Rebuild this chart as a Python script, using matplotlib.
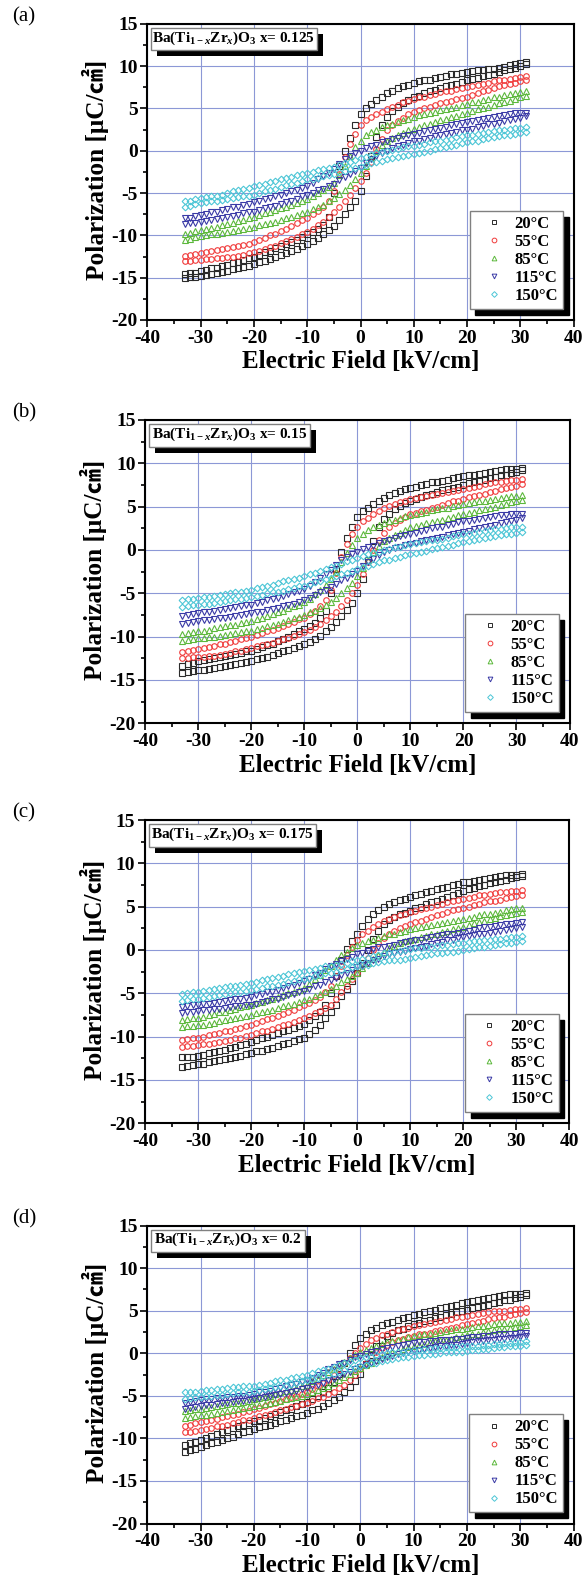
import matplotlib
matplotlib.use("Agg")
import matplotlib.pyplot as plt
from matplotlib.lines import Line2D
from matplotlib.patches import Rectangle

# field sweep (kV/cm), same grid for both branches of every loop
field = [-33, -32, -31, -30, -29, -28, -27, -26, -25, -24, -23, -22, -21, -20,
         -19, -18, -17, -16, -15, -14, -13, -12, -11, -10, -9, -8, -7, -6, -5,
         -4, -3, -2, -1, 0, 1, 2, 3, 4, 5, 6, 7, 8, 9, 10, 11, 12, 13, 14, 15,
         16, 17, 18, 19, 20, 21, 22, 23, 24, 25, 26, 27, 28, 29, 30, 31]

temps = ["20°C", "55°C", "85°C", "115°C", "150°C"]
compositions = ["0.125", "0.15", "0.175", "0.2"]
panel_tags = ["(a)", "(b)", "(c)", "(d)"]

# ---- x = 0.125 : upper (descending field) / lower (ascending field) branches
a20_up = [-14.6, -14.5, -14.4, -14.2, -14.1, -13.9, -13.8, -13.6, -13.5, -13.3, -13.1, -12.9, -12.7, -12.5, -12.3, -12.0, -11.8, -11.5, -11.3, -11.0, -10.8, -10.5, -10.2, -9.9, -9.6, -9.3, -8.8, -7.8, -5.0, -1.8, 0.0, 1.5, 3.0, 4.3, 5.0, 5.5, 6.0, 6.4, 6.8, 7.1, 7.4, 7.6, 7.8, 8.0, 8.2, 8.3, 8.4, 8.6, 8.7, 8.8, 9.0, 9.1, 9.2, 9.3, 9.4, 9.5, 9.5, 9.6, 9.7, 9.8, 9.9, 10.1, 10.2, 10.4, 10.5]
a20_dn = [-15.0, -14.9, -14.9, -14.8, -14.7, -14.6, -14.5, -14.3, -14.2, -14.0, -13.9, -13.7, -13.6, -13.4, -13.2, -13.0, -12.8, -12.5, -12.3, -12.1, -11.8, -11.6, -11.3, -11.0, -10.7, -10.3, -9.8, -9.4, -8.9, -8.2, -7.5, -6.7, -5.9, -4.8, -3.0, -0.6, 1.6, 3.0, 4.0, 4.7, 5.2, 5.6, 6.0, 6.3, 6.5, 6.8, 7.0, 7.2, 7.4, 7.6, 7.8, 7.9, 8.1, 8.3, 8.5, 8.6, 8.8, 8.9, 9.1, 9.3, 9.5, 9.6, 9.8, 10.0, 10.2]
a55_up = [-12.4, -12.3, -12.2, -12.1, -12.0, -11.8, -11.7, -11.6, -11.5, -11.4, -11.2, -11.1, -11.0, -10.8, -10.6, -10.3, -10.0, -9.8, -9.5, -9.2, -8.9, -8.5, -8.2, -7.9, -7.5, -7.1, -6.6, -6.0, -4.8, -2.8, -0.8, 0.8, 2.0, 3.0, 3.6, 4.0, 4.3, 4.6, 4.9, 5.2, 5.4, 5.7, 5.9, 6.1, 6.3, 6.4, 6.6, 6.7, 6.9, 7.0, 7.1, 7.3, 7.4, 7.5, 7.6, 7.8, 7.9, 8.0, 8.2, 8.3, 8.4, 8.5, 8.6, 8.7, 8.8]
a55_dn = [-13.0, -13.0, -12.9, -12.9, -12.8, -12.8, -12.7, -12.7, -12.6, -12.5, -12.4, -12.3, -12.1, -12.0, -11.8, -11.6, -11.4, -11.2, -10.9, -10.7, -10.4, -10.2, -9.9, -9.6, -9.2, -8.8, -8.4, -7.8, -7.2, -6.6, -5.9, -5.2, -4.4, -3.6, -2.6, -1.3, 0.2, 1.4, 2.5, 3.0, 3.5, 3.9, 4.3, 4.6, 4.8, 5.0, 5.2, 5.4, 5.6, 5.8, 5.9, 6.1, 6.2, 6.4, 6.6, 6.8, 7.0, 7.2, 7.4, 7.6, 7.7, 7.9, 8.0, 8.2, 8.4]
a85_up = [-9.8, -9.7, -9.5, -9.4, -9.3, -9.1, -9.0, -8.8, -8.7, -8.5, -8.3, -8.2, -8.0, -7.8, -7.6, -7.4, -7.2, -7.0, -6.8, -6.6, -6.4, -6.2, -5.9, -5.7, -5.4, -5.0, -4.7, -4.3, -3.8, -2.9, -1.8, -0.6, 0.4, 1.2, 1.8, 2.2, 2.5, 2.8, 3.0, 3.2, 3.4, 3.6, 3.8, 4.0, 4.2, 4.3, 4.5, 4.6, 4.8, 4.9, 5.1, 5.2, 5.4, 5.5, 5.7, 5.8, 6.0, 6.1, 6.3, 6.4, 6.6, 6.7, 6.8, 6.9, 7.0]
a85_dn = [-10.6, -10.4, -10.2, -10.1, -10.0, -9.9, -9.8, -9.7, -9.6, -9.5, -9.4, -9.2, -9.1, -9.0, -8.8, -8.7, -8.5, -8.4, -8.2, -8.0, -7.8, -7.6, -7.4, -7.2, -6.9, -6.7, -6.4, -6.0, -5.6, -5.1, -4.6, -4.0, -3.4, -2.6, -1.8, -0.9, 0.0, 0.7, 1.2, 1.5, 1.8, 2.1, 2.4, 2.6, 2.8, 3.0, 3.2, 3.4, 3.6, 3.8, 4.0, 4.1, 4.3, 4.5, 4.7, 4.9, 5.0, 5.2, 5.4, 5.6, 5.8, 5.9, 6.1, 6.3, 6.5]
a115_up = [-8.0, -7.9, -7.7, -7.6, -7.5, -7.3, -7.2, -7.0, -6.9, -6.7, -6.6, -6.4, -6.3, -6.1, -5.9, -5.7, -5.6, -5.4, -5.2, -5.0, -4.8, -4.6, -4.4, -4.2, -3.8, -3.4, -3.0, -2.6, -2.2, -1.6, -1.0, -0.6, -0.3, 0.0, 0.3, 0.5, 0.7, 1.0, 1.2, 1.4, 1.5, 1.7, 1.8, 2.0, 2.1, 2.3, 2.4, 2.6, 2.7, 2.8, 3.0, 3.1, 3.3, 3.4, 3.5, 3.6, 3.8, 3.9, 4.0, 4.1, 4.2, 4.3, 4.4, 4.4, 4.5]
a115_dn = [-8.7, -8.6, -8.5, -8.4, -8.3, -8.2, -8.1, -7.9, -7.8, -7.7, -7.6, -7.4, -7.3, -7.2, -7.0, -6.8, -6.7, -6.5, -6.3, -6.1, -5.9, -5.7, -5.4, -5.2, -5.0, -4.7, -4.5, -4.2, -3.9, -3.5, -3.1, -2.8, -2.4, -2.0, -1.5, -1.0, -0.6, -0.3, 0.0, 0.3, 0.5, 0.7, 0.9, 1.1, 1.2, 1.4, 1.5, 1.7, 1.8, 2.0, 2.1, 2.2, 2.4, 2.5, 2.6, 2.8, 2.9, 3.1, 3.2, 3.3, 3.5, 3.6, 3.8, 3.9, 4.1]
a150_up = [-6.0, -5.9, -5.7, -5.6, -5.5, -5.4, -5.3, -5.2, -5.0, -4.8, -4.7, -4.5, -4.4, -4.2, -4.0, -3.9, -3.7, -3.6, -3.4, -3.2, -3.1, -2.9, -2.8, -2.6, -2.5, -2.3, -2.2, -2.0, -1.9, -1.7, -1.5, -1.3, -1.1, -0.9, -0.7, -0.5, -0.3, -0.2, 0.0, 0.1, 0.2, 0.4, 0.5, 0.6, 0.7, 0.8, 1.0, 1.1, 1.2, 1.3, 1.4, 1.6, 1.7, 1.8, 1.9, 2.0, 2.1, 2.2, 2.3, 2.4, 2.5, 2.6, 2.7, 2.7, 2.8]
a150_dn = [-6.6, -6.5, -6.3, -6.2, -6.1, -6.0, -5.9, -5.8, -5.7, -5.6, -5.5, -5.4, -5.3, -5.2, -5.0, -4.8, -4.7, -4.5, -4.3, -4.1, -3.9, -3.8, -3.6, -3.4, -3.3, -3.2, -3.0, -2.9, -2.7, -2.5, -2.4, -2.2, -2.1, -1.9, -1.7, -1.5, -1.3, -1.2, -1.0, -0.9, -0.8, -0.6, -0.5, -0.4, -0.3, -0.1, 0.0, 0.2, 0.3, 0.4, 0.6, 0.7, 0.9, 1.0, 1.1, 1.2, 1.4, 1.5, 1.6, 1.7, 1.8, 1.9, 2.0, 2.1, 2.2]

# ---- x = 0.15
b20_up = [-13.4, -13.2, -13.0, -12.8, -12.7, -12.6, -12.5, -12.3, -12.2, -12.1, -12.0, -11.9, -11.7, -11.6, -11.4, -11.2, -11.0, -10.8, -10.5, -10.3, -10.0, -9.7, -9.4, -9.1, -8.8, -8.4, -7.9, -7.0, -5.0, -2.2, -0.2, 1.4, 2.7, 3.8, 4.5, 4.9, 5.3, 5.7, 6.0, 6.3, 6.6, 6.8, 7.0, 7.2, 7.3, 7.5, 7.6, 7.8, 7.9, 8.0, 8.1, 8.3, 8.4, 8.5, 8.6, 8.7, 8.8, 8.9, 9.0, 9.1, 9.2, 9.3, 9.3, 9.4, 9.5]
b20_dn = [-14.2, -14.1, -14.0, -13.9, -13.8, -13.7, -13.6, -13.5, -13.4, -13.3, -13.2, -13.0, -12.9, -12.8, -12.6, -12.5, -12.3, -12.1, -11.9, -11.7, -11.5, -11.3, -11.1, -10.9, -10.6, -10.3, -9.9, -9.4, -8.9, -8.3, -7.6, -6.9, -6.1, -5.0, -3.4, -1.2, 1.0, 2.6, 3.6, 4.2, 4.7, 5.1, 5.4, 5.7, 5.9, 6.1, 6.3, 6.5, 6.7, 6.9, 7.0, 7.2, 7.3, 7.5, 7.7, 7.8, 8.0, 8.1, 8.3, 8.4, 8.6, 8.7, 8.9, 9.0, 9.2]
b55_up = [-11.8, -11.7, -11.5, -11.4, -11.3, -11.2, -11.1, -10.9, -10.8, -10.6, -10.5, -10.3, -10.2, -10.0, -9.8, -9.6, -9.4, -9.2, -9.0, -8.8, -8.5, -8.3, -8.0, -7.8, -7.4, -7.0, -6.5, -5.8, -4.6, -2.6, -0.8, 0.7, 1.8, 2.7, 3.3, 3.7, 4.1, 4.5, 4.8, 5.1, 5.3, 5.5, 5.7, 5.9, 6.0, 6.1, 6.2, 6.4, 6.5, 6.6, 6.7, 6.8, 6.9, 7.0, 7.1, 7.3, 7.4, 7.6, 7.7, 7.8, 7.9, 8.0, 8.1, 8.1, 8.2]
b55_dn = [-12.5, -12.5, -12.4, -12.4, -12.3, -12.2, -12.2, -12.1, -12.0, -11.9, -11.7, -11.6, -11.4, -11.3, -11.1, -11.0, -10.8, -10.7, -10.5, -10.3, -10.1, -9.9, -9.7, -9.5, -9.2, -8.9, -8.5, -8.1, -7.6, -7.1, -6.5, -5.8, -5.0, -4.0, -2.8, -1.4, 0.0, 1.1, 2.0, 2.6, 3.1, 3.5, 3.8, 4.1, 4.3, 4.5, 4.6, 4.8, 5.0, 5.2, 5.4, 5.6, 5.7, 5.9, 6.1, 6.2, 6.4, 6.5, 6.7, 6.8, 7.0, 7.1, 7.3, 7.4, 7.6]
b85_up = [-9.7, -9.6, -9.5, -9.4, -9.3, -9.2, -9.0, -8.9, -8.8, -8.7, -8.6, -8.4, -8.3, -8.2, -8.0, -7.8, -7.6, -7.4, -7.2, -7.0, -6.7, -6.5, -6.3, -6.0, -5.6, -5.1, -4.6, -4.0, -3.4, -2.5, -1.4, -0.3, 0.6, 1.4, 1.9, 2.3, 2.6, 2.9, 3.1, 3.3, 3.5, 3.7, 3.9, 4.0, 4.2, 4.3, 4.4, 4.6, 4.7, 4.8, 4.9, 5.1, 5.2, 5.3, 5.4, 5.5, 5.6, 5.7, 5.8, 5.9, 6.0, 6.1, 6.2, 6.2, 6.3]
b85_dn = [-10.5, -10.4, -10.3, -10.2, -10.1, -10.0, -10.0, -9.9, -9.8, -9.7, -9.6, -9.5, -9.4, -9.3, -9.1, -9.0, -8.8, -8.7, -8.5, -8.3, -8.1, -7.9, -7.7, -7.5, -7.2, -7.0, -6.7, -6.4, -6.0, -5.5, -5.0, -4.4, -3.8, -3.0, -2.1, -1.1, -0.2, 0.5, 1.0, 1.4, 1.7, 2.0, 2.3, 2.6, 2.8, 2.9, 3.1, 3.2, 3.4, 3.5, 3.7, 3.8, 4.0, 4.1, 4.3, 4.4, 4.6, 4.7, 4.9, 5.0, 5.2, 5.3, 5.5, 5.6, 5.8]
b115_up = [-7.6, -7.5, -7.4, -7.3, -7.2, -7.1, -7.0, -6.9, -6.8, -6.7, -6.6, -6.5, -6.4, -6.3, -6.1, -6.0, -5.8, -5.7, -5.5, -5.3, -5.1, -4.9, -4.7, -4.5, -4.1, -3.7, -3.2, -2.8, -2.3, -1.7, -1.2, -0.8, -0.5, -0.2, 0.1, 0.3, 0.5, 0.8, 1.0, 1.2, 1.4, 1.6, 1.7, 1.9, 2.0, 2.2, 2.3, 2.5, 2.6, 2.7, 2.9, 3.0, 3.2, 3.3, 3.4, 3.5, 3.6, 3.7, 3.8, 3.9, 4.0, 4.0, 4.1, 4.1, 4.2]
b115_dn = [-8.5, -8.4, -8.3, -8.2, -8.1, -8.1, -8.0, -7.9, -7.8, -7.7, -7.6, -7.5, -7.4, -7.3, -7.2, -7.1, -6.9, -6.8, -6.7, -6.5, -6.3, -6.2, -6.0, -5.8, -5.5, -5.2, -4.9, -4.6, -4.3, -3.9, -3.5, -3.2, -2.8, -2.4, -1.9, -1.4, -1.0, -0.6, -0.2, 0.0, 0.2, 0.4, 0.6, 0.7, 0.8, 1.0, 1.1, 1.3, 1.4, 1.5, 1.7, 1.8, 2.0, 2.1, 2.2, 2.4, 2.5, 2.7, 2.8, 2.9, 3.1, 3.2, 3.4, 3.5, 3.7]
b150_up = [-5.8, -5.7, -5.6, -5.5, -5.4, -5.4, -5.3, -5.2, -5.1, -5.0, -4.9, -4.8, -4.7, -4.6, -4.4, -4.3, -4.1, -4.0, -3.8, -3.6, -3.5, -3.3, -3.2, -3.0, -2.8, -2.6, -2.4, -2.2, -2.0, -1.8, -1.6, -1.3, -1.1, -0.9, -0.7, -0.5, -0.3, -0.2, 0.0, 0.1, 0.3, 0.4, 0.6, 0.7, 0.8, 0.9, 1.0, 1.1, 1.2, 1.3, 1.4, 1.6, 1.7, 1.8, 1.9, 2.0, 2.1, 2.2, 2.3, 2.4, 2.4, 2.5, 2.6, 2.6, 2.7]
b150_dn = [-6.6, -6.5, -6.4, -6.3, -6.2, -6.2, -6.1, -6.0, -5.9, -5.8, -5.7, -5.6, -5.5, -5.4, -5.3, -5.2, -5.0, -4.9, -4.8, -4.7, -4.5, -4.4, -4.2, -4.1, -3.9, -3.7, -3.6, -3.4, -3.2, -3.0, -2.8, -2.6, -2.4, -2.2, -2.0, -1.8, -1.6, -1.4, -1.2, -1.1, -0.9, -0.8, -0.6, -0.5, -0.4, -0.2, -0.1, 0.1, 0.2, 0.3, 0.5, 0.6, 0.8, 0.9, 1.0, 1.1, 1.3, 1.4, 1.5, 1.6, 1.7, 1.8, 1.9, 2.0, 2.1]

# ---- x = 0.175
c20_up = [-12.4, -12.3, -12.3, -12.2, -12.1, -11.9, -11.8, -11.7, -11.5, -11.3, -11.2, -11.0, -10.8, -10.6, -10.4, -10.2, -10.0, -9.8, -9.6, -9.4, -9.2, -9.0, -8.8, -8.5, -8.1, -7.6, -7.1, -6.4, -5.0, -3.0, -1.2, 0.1, 1.0, 1.9, 2.8, 3.6, 4.2, 4.6, 5.0, 5.3, 5.5, 5.8, 5.9, 6.1, 6.3, 6.5, 6.7, 6.8, 7.0, 7.2, 7.3, 7.5, 7.6, 7.8, 7.9, 8.0, 8.1, 8.2, 8.3, 8.4, 8.5, 8.6, 8.7, 8.7, 8.8]
c20_dn = [-13.5, -13.4, -13.3, -13.2, -13.1, -12.9, -12.8, -12.7, -12.6, -12.5, -12.3, -12.2, -12.0, -11.9, -11.7, -11.6, -11.4, -11.3, -11.1, -10.9, -10.7, -10.5, -10.3, -10.1, -9.7, -9.2, -8.6, -7.8, -7.2, -6.3, -5.3, -4.5, -3.6, -2.7, -1.5, 0.0, 1.3, 2.2, 3.0, 3.5, 3.8, 4.1, 4.3, 4.5, 4.8, 5.0, 5.3, 5.5, 5.7, 5.9, 6.1, 6.4, 6.6, 6.8, 7.0, 7.2, 7.4, 7.5, 7.7, 7.8, 8.0, 8.1, 8.3, 8.4, 8.5]
c55_up = [-10.4, -10.3, -10.2, -10.1, -10.0, -9.8, -9.7, -9.6, -9.4, -9.3, -9.1, -9.0, -8.8, -8.6, -8.4, -8.2, -8.0, -7.8, -7.6, -7.4, -7.1, -6.9, -6.6, -6.4, -6.1, -5.8, -5.4, -4.9, -4.1, -3.0, -1.8, -0.6, 0.4, 1.2, 1.8, 2.2, 2.6, 3.0, 3.3, 3.6, 3.8, 4.0, 4.2, 4.4, 4.5, 4.7, 4.9, 5.0, 5.2, 5.3, 5.5, 5.6, 5.8, 5.9, 6.0, 6.1, 6.3, 6.4, 6.5, 6.6, 6.7, 6.7, 6.8, 6.8, 6.9]
c55_dn = [-11.2, -11.1, -11.1, -11.0, -10.9, -10.8, -10.7, -10.6, -10.5, -10.4, -10.2, -10.1, -9.9, -9.8, -9.6, -9.4, -9.3, -9.1, -8.9, -8.7, -8.5, -8.3, -8.1, -7.9, -7.6, -7.3, -7.0, -6.7, -6.3, -5.6, -4.9, -4.2, -3.4, -2.6, -1.8, -0.9, 0.0, 0.8, 1.4, 1.8, 2.2, 2.5, 2.8, 3.0, 3.2, 3.4, 3.6, 3.8, 4.0, 4.2, 4.4, 4.6, 4.7, 4.9, 5.0, 5.2, 5.3, 5.5, 5.6, 5.7, 5.8, 6.0, 6.1, 6.2, 6.3]
c85_up = [-8.1, -8.0, -7.9, -7.8, -7.7, -7.5, -7.4, -7.2, -7.1, -6.9, -6.8, -6.6, -6.5, -6.3, -6.1, -6.0, -5.8, -5.6, -5.4, -5.2, -5.0, -4.8, -4.6, -4.4, -3.9, -3.4, -2.9, -2.3, -1.8, -1.2, -0.6, -0.2, 0.2, 0.6, 0.8, 1.0, 1.2, 1.4, 1.6, 1.8, 1.9, 2.1, 2.2, 2.4, 2.5, 2.6, 2.8, 2.9, 3.0, 3.1, 3.2, 3.4, 3.5, 3.6, 3.7, 3.8, 4.0, 4.1, 4.2, 4.3, 4.4, 4.6, 4.7, 4.8, 4.9]
c85_dn = [-8.9, -8.8, -8.8, -8.7, -8.6, -8.5, -8.4, -8.2, -8.1, -8.0, -7.9, -7.7, -7.6, -7.5, -7.3, -7.2, -7.0, -6.9, -6.7, -6.5, -6.4, -6.2, -6.0, -5.8, -5.6, -5.3, -5.1, -4.8, -4.5, -4.1, -3.7, -3.4, -3.0, -2.6, -2.1, -1.5, -1.0, -0.6, -0.2, 0.2, 0.5, 0.8, 1.0, 1.2, 1.3, 1.5, 1.6, 1.8, 1.9, 2.1, 2.2, 2.4, 2.5, 2.7, 2.9, 3.1, 3.2, 3.4, 3.6, 3.7, 3.9, 4.0, 4.1, 4.3, 4.4]
c115_up = [-6.6, -6.5, -6.4, -6.3, -6.2, -6.2, -6.1, -6.0, -5.9, -5.8, -5.7, -5.6, -5.5, -5.4, -5.2, -5.1, -4.9, -4.8, -4.6, -4.4, -4.2, -4.0, -3.8, -3.6, -3.3, -2.9, -2.6, -2.2, -1.9, -1.6, -1.3, -1.0, -0.8, -0.5, -0.3, -0.1, 0.1, 0.3, 0.4, 0.5, 0.6, 0.8, 0.9, 1.0, 1.1, 1.2, 1.4, 1.5, 1.6, 1.7, 1.8, 1.9, 2.0, 2.1, 2.2, 2.3, 2.5, 2.6, 2.7, 2.8, 2.9, 3.0, 3.0, 3.1, 3.2]
c115_dn = [-7.3, -7.2, -7.1, -7.0, -6.9, -6.9, -6.8, -6.8, -6.7, -6.6, -6.5, -6.5, -6.4, -6.3, -6.2, -6.0, -5.9, -5.7, -5.6, -5.4, -5.2, -5.1, -4.9, -4.7, -4.5, -4.2, -4.0, -3.7, -3.5, -3.2, -2.9, -2.6, -2.3, -2.0, -1.7, -1.5, -1.2, -1.0, -0.7, -0.5, -0.4, -0.2, -0.1, 0.1, 0.2, 0.4, 0.5, 0.7, 0.8, 0.9, 1.1, 1.2, 1.4, 1.5, 1.6, 1.7, 1.8, 1.9, 2.0, 2.1, 2.2, 2.3, 2.4, 2.5, 2.7]
c150_up = [-5.1, -5.0, -4.9, -4.8, -4.7, -4.6, -4.5, -4.4, -4.3, -4.2, -4.1, -4.0, -3.9, -3.8, -3.7, -3.5, -3.4, -3.2, -3.1, -3.0, -2.8, -2.7, -2.5, -2.4, -2.3, -2.2, -2.1, -1.9, -1.8, -1.7, -1.6, -1.5, -1.3, -1.2, -1.0, -0.9, -0.7, -0.6, -0.4, -0.3, -0.2, -0.1, 0.0, 0.1, 0.2, 0.2, 0.3, 0.4, 0.5, 0.6, 0.6, 0.7, 0.8, 0.8, 0.9, 1.0, 1.0, 1.1, 1.2, 1.3, 1.3, 1.4, 1.5, 1.5, 1.6]
c150_dn = [-5.9, -5.8, -5.7, -5.6, -5.5, -5.4, -5.3, -5.2, -5.1, -5.0, -4.9, -4.8, -4.7, -4.6, -4.5, -4.4, -4.2, -4.1, -4.0, -3.9, -3.7, -3.6, -3.4, -3.3, -3.2, -3.0, -2.9, -2.7, -2.6, -2.5, -2.3, -2.2, -2.0, -1.9, -1.8, -1.7, -1.5, -1.4, -1.3, -1.2, -1.1, -1.1, -1.0, -0.9, -0.8, -0.7, -0.6, -0.5, -0.4, -0.3, -0.2, -0.2, -0.1, 0.0, 0.1, 0.2, 0.3, 0.4, 0.5, 0.6, 0.7, 0.8, 0.8, 0.9, 1.0]

# ---- x = 0.2
d20_up = [-10.8, -10.6, -10.4, -10.2, -10.0, -9.7, -9.5, -9.2, -9.0, -8.8, -8.6, -8.4, -8.2, -8.0, -7.8, -7.6, -7.4, -7.1, -6.9, -6.7, -6.5, -6.2, -6.0, -5.7, -5.4, -5.0, -4.6, -4.1, -3.4, -2.4, -1.2, 0.0, 1.0, 1.8, 2.3, 2.7, 3.0, 3.3, 3.5, 3.7, 3.9, 4.1, 4.3, 4.5, 4.6, 4.8, 5.0, 5.1, 5.3, 5.4, 5.6, 5.7, 5.9, 6.0, 6.1, 6.2, 6.4, 6.5, 6.6, 6.7, 6.8, 6.9, 7.0, 7.0, 7.1]
d20_dn = [-11.6, -11.4, -11.2, -11.0, -10.8, -10.6, -10.4, -10.2, -10.0, -9.8, -9.5, -9.3, -9.1, -8.9, -8.7, -8.5, -8.4, -8.2, -8.0, -7.8, -7.6, -7.4, -7.2, -7.0, -6.7, -6.5, -6.2, -5.9, -5.5, -5.1, -4.6, -4.0, -3.3, -2.4, -1.3, -0.2, 0.8, 1.5, 2.0, 2.4, 2.7, 2.9, 3.2, 3.4, 3.6, 3.8, 3.9, 4.1, 4.3, 4.5, 4.6, 4.8, 4.9, 5.1, 5.3, 5.4, 5.6, 5.7, 5.9, 6.0, 6.2, 6.3, 6.5, 6.6, 6.8]
d55_up = [-8.5, -8.4, -8.2, -8.1, -8.0, -7.8, -7.7, -7.5, -7.4, -7.2, -7.1, -6.9, -6.8, -6.6, -6.4, -6.2, -6.0, -5.8, -5.6, -5.4, -5.2, -5.0, -4.8, -4.5, -4.2, -3.9, -3.5, -3.1, -2.6, -1.9, -1.2, -0.6, 0.0, 0.6, 1.1, 1.5, 1.8, 2.1, 2.3, 2.5, 2.7, 2.9, 3.0, 3.2, 3.3, 3.4, 3.6, 3.7, 3.8, 3.9, 4.0, 4.2, 4.3, 4.4, 4.5, 4.6, 4.7, 4.8, 4.9, 5.0, 5.0, 5.1, 5.2, 5.2, 5.3]
d55_dn = [-9.3, -9.2, -9.1, -9.0, -8.9, -8.8, -8.6, -8.5, -8.4, -8.2, -8.1, -7.9, -7.8, -7.6, -7.4, -7.2, -7.1, -6.9, -6.7, -6.5, -6.3, -6.2, -6.0, -5.8, -5.6, -5.3, -5.1, -4.8, -4.5, -4.1, -3.7, -3.2, -2.6, -1.9, -1.1, -0.4, 0.2, 0.6, 1.0, 1.3, 1.5, 1.7, 1.9, 2.0, 2.2, 2.3, 2.4, 2.6, 2.7, 2.8, 3.0, 3.1, 3.3, 3.4, 3.5, 3.7, 3.8, 4.0, 4.1, 4.2, 4.3, 4.5, 4.6, 4.7, 4.8]
d85_up = [-6.8, -6.7, -6.6, -6.5, -6.4, -6.3, -6.2, -6.1, -6.0, -5.9, -5.8, -5.7, -5.6, -5.4, -5.3, -5.1, -5.0, -4.8, -4.6, -4.4, -4.3, -4.1, -3.9, -3.7, -3.3, -3.0, -2.6, -2.2, -1.8, -1.4, -1.0, -0.6, -0.2, 0.2, 0.4, 0.6, 0.9, 1.1, 1.3, 1.4, 1.6, 1.7, 1.9, 2.0, 2.1, 2.2, 2.3, 2.4, 2.5, 2.6, 2.7, 2.8, 2.9, 3.0, 3.1, 3.2, 3.2, 3.3, 3.4, 3.5, 3.5, 3.6, 3.7, 3.7, 3.8]
d85_dn = [-7.6, -7.5, -7.4, -7.3, -7.2, -7.1, -7.0, -6.9, -6.8, -6.7, -6.6, -6.4, -6.3, -6.2, -6.1, -6.0, -5.8, -5.7, -5.6, -5.4, -5.3, -5.1, -5.0, -4.8, -4.6, -4.3, -4.1, -3.8, -3.5, -3.1, -2.8, -2.4, -2.1, -1.7, -1.4, -1.1, -0.8, -0.5, -0.2, 0.1, 0.3, 0.5, 0.7, 0.9, 1.0, 1.1, 1.3, 1.4, 1.5, 1.6, 1.7, 1.9, 2.0, 2.1, 2.2, 2.3, 2.5, 2.6, 2.7, 2.8, 2.9, 3.0, 3.1, 3.2, 3.3]
d115_up = [-5.8, -5.7, -5.6, -5.5, -5.4, -5.4, -5.3, -5.3, -5.2, -5.1, -5.0, -5.0, -4.9, -4.8, -4.6, -4.5, -4.4, -4.2, -4.1, -3.9, -3.7, -3.6, -3.4, -3.2, -2.9, -2.6, -2.3, -1.9, -1.6, -1.3, -1.1, -0.8, -0.5, -0.3, -0.1, 0.1, 0.3, 0.5, 0.6, 0.7, 0.9, 1.0, 1.1, 1.2, 1.3, 1.3, 1.4, 1.4, 1.5, 1.6, 1.6, 1.7, 1.7, 1.8, 1.9, 1.9, 2.0, 2.0, 2.1, 2.2, 2.2, 2.3, 2.3, 2.4, 2.4]
d115_dn = [-6.5, -6.4, -6.3, -6.2, -6.1, -6.1, -6.0, -5.9, -5.8, -5.7, -5.6, -5.6, -5.5, -5.4, -5.3, -5.2, -5.0, -4.9, -4.8, -4.7, -4.5, -4.4, -4.2, -4.1, -3.9, -3.7, -3.5, -3.2, -3.0, -2.7, -2.4, -2.2, -1.9, -1.6, -1.4, -1.2, -0.9, -0.7, -0.5, -0.3, -0.1, 0.0, 0.2, 0.3, 0.4, 0.5, 0.6, 0.7, 0.8, 0.9, 1.0, 1.0, 1.1, 1.2, 1.3, 1.4, 1.4, 1.5, 1.6, 1.7, 1.7, 1.8, 1.8, 1.9, 2.0]
d150_up = [-4.6, -4.5, -4.5, -4.4, -4.3, -4.3, -4.2, -4.2, -4.1, -4.0, -4.0, -3.9, -3.9, -3.8, -3.7, -3.6, -3.5, -3.3, -3.2, -3.1, -2.9, -2.8, -2.7, -2.5, -2.3, -2.1, -2.0, -1.8, -1.6, -1.4, -1.2, -1.0, -0.8, -0.6, -0.5, -0.4, -0.2, -0.1, 0.0, 0.1, 0.1, 0.2, 0.3, 0.4, 0.4, 0.5, 0.5, 0.6, 0.6, 0.7, 0.7, 0.7, 0.8, 0.8, 0.9, 0.9, 1.0, 1.0, 1.1, 1.1, 1.2, 1.2, 1.3, 1.3, 1.4]
d150_dn = [-5.4, -5.3, -5.2, -5.1, -5.0, -5.0, -4.9, -4.9, -4.8, -4.7, -4.6, -4.6, -4.5, -4.4, -4.3, -4.2, -4.1, -4.0, -3.9, -3.8, -3.6, -3.5, -3.3, -3.2, -3.0, -2.9, -2.7, -2.6, -2.4, -2.2, -2.0, -1.9, -1.7, -1.5, -1.4, -1.2, -1.1, -0.9, -0.8, -0.7, -0.6, -0.5, -0.4, -0.3, -0.2, -0.2, -0.1, -0.1, 0.0, 0.1, 0.1, 0.2, 0.2, 0.3, 0.4, 0.4, 0.5, 0.5, 0.6, 0.7, 0.7, 0.8, 0.8, 0.9, 1.0]

loops = [
    [(a20_up, a20_dn), (a55_up, a55_dn), (a85_up, a85_dn), (a115_up, a115_dn), (a150_up, a150_dn)],
    [(b20_up, b20_dn), (b55_up, b55_dn), (b85_up, b85_dn), (b115_up, b115_dn), (b150_up, b150_dn)],
    [(c20_up, c20_dn), (c55_up, c55_dn), (c85_up, c85_dn), (c115_up, c115_dn), (c150_up, c150_dn)],
    [(d20_up, d20_dn), (d55_up, d55_dn), (d85_up, d85_dn), (d115_up, d115_dn), (d150_up, d150_dn)],
]

colors = ["#2b2b2b", "#f03a3a", "#5cb83c", "#3a3aa6", "#4cc6d6"]
markers = ["s", "o", "^", "v", "D"]
msizes = [3.8, 4.0, 4.0, 4.0, 3.4]

plt.rcParams["font.family"] = ["Liberation Serif", "Noto Sans CJK JP", "DejaVu Sans"]
plt.rcParams["font.weight"] = "bold"
plt.rcParams["axes.unicode_minus"] = False
plt.rcParams["mathtext.fontset"] = "custom"
plt.rcParams["mathtext.rm"] = "Liberation Serif:bold"
plt.rcParams["mathtext.it"] = "Liberation Serif:italic:bold"
plt.rcParams["mathtext.bf"] = "Liberation Serif:bold"

W, H = 587, 1583
fig = plt.figure(figsize=(W / 100, H / 100), dpi=100)

# axes frames in pixels: left, right, top, bottom
frames = [(147.3, 573.7, 23.7, 320.0),
          (145.3, 569.5, 420.0, 723.3),
          (145.0, 569.3, 820.0, 1123.3),
          (147.3, 573.5, 1225.5, 1523.5)]
box_right = [0.397, 0.388, 0.404, 0.37]
grid_c = "#8c98d6"

for k, (l, r, t, b) in enumerate(frames):
    ax = fig.add_axes([l / W, 1 - b / H, (r - l) / W, (b - t) / H])

    for j, (up, dn) in enumerate(loops[k]):
        for branch in (up, dn):
            ax.plot(field, branch, ls="none", marker=markers[j], ms=msizes[j],
                    mfc="none", mec=colors[j], mew=0.8, zorder=3 + j)

    ax.set_xlim(-40, 40)
    ax.set_ylim(-20, 15)
    ax.set_xticks(range(-40, 41, 10))
    ax.set_xticks(range(-35, 40, 10), minor=True)
    ax.set_yticks(range(-20, 16, 5))
    ax.set_yticks([-17.5, -12.5, -7.5, -2.5, 2.5, 7.5, 12.5], minor=True)
    ax.grid(True, which="major", color=grid_c, lw=0.8, zorder=0)
    ax.tick_params(which="both", direction="out", top=False, right=False,
                   width=1.2, labelsize=14, pad=2)
    ax.tick_params(which="major", length=5)
    ax.tick_params(which="minor", length=3)
    for sp in ax.spines.values():
        sp.set_linewidth(1.5)

    ax.set_xlabel("Electric Field [kV/cm]", fontsize=18, fontweight="bold")
    ax.set_ylabel("Polarization [μC/㎠]", fontsize=18.2, fontweight="bold")
    ax.xaxis.set_label_coords(0.5, -0.102)
    ax.yaxis.set_label_coords(-0.09, 0.505)

    # composition tag with drop shadow
    bx0, bx1, by0, by1 = 0.009, box_right[k], 0.91, 0.986
    dx, dy = 6 / (r - l), 6 / (b - t)
    ax.add_patch(Rectangle((bx0 + dx, by0 - dy), bx1 - bx0, by1 - by0,
                           transform=ax.transAxes, fc="black", ec="none", zorder=10))
    ax.add_patch(Rectangle((bx0, by0), bx1 - bx0, by1 - by0,
                           transform=ax.transAxes, fc="white", ec="#808080",
                           lw=1.0, zorder=11))
    ax.text((bx0 + bx1) / 2, (by0 + by1) / 2 + 0.004,
            "Ba(Ti$_{1-x}$Zr$_{x}$)O$_{3}$ x= " + compositions[k],
            transform=ax.transAxes, ha="center", va="center", fontsize=11,
            zorder=12)

    handles = [Line2D([], [], ls="none", marker=markers[j], ms=msizes[j] * 0.85,
                      mfc="none", mec=colors[j], mew=0.7) for j in range(5)]
    leg = ax.legend(handles, temps, loc="lower right", bbox_to_anchor=(0.975, 0.037),
                    borderaxespad=0, fontsize=12, frameon=True, fancybox=False,
                    framealpha=1, edgecolor="#808080", handlelength=2.3,
                    handletextpad=0.1, labelspacing=0.12, borderpad=0.3,
                    shadow={"ox": 4, "oy": -4, "color": "black", "alpha": 1})
    leg.get_frame().set_linewidth(1.0)
    leg.set_zorder(20)

    fig.text(12 / W, 1 - (t - 7) / H, panel_tags[k], fontsize=15,
             fontweight="normal", ha="left", va="center")

fig.savefig("out.png", dpi=100)
